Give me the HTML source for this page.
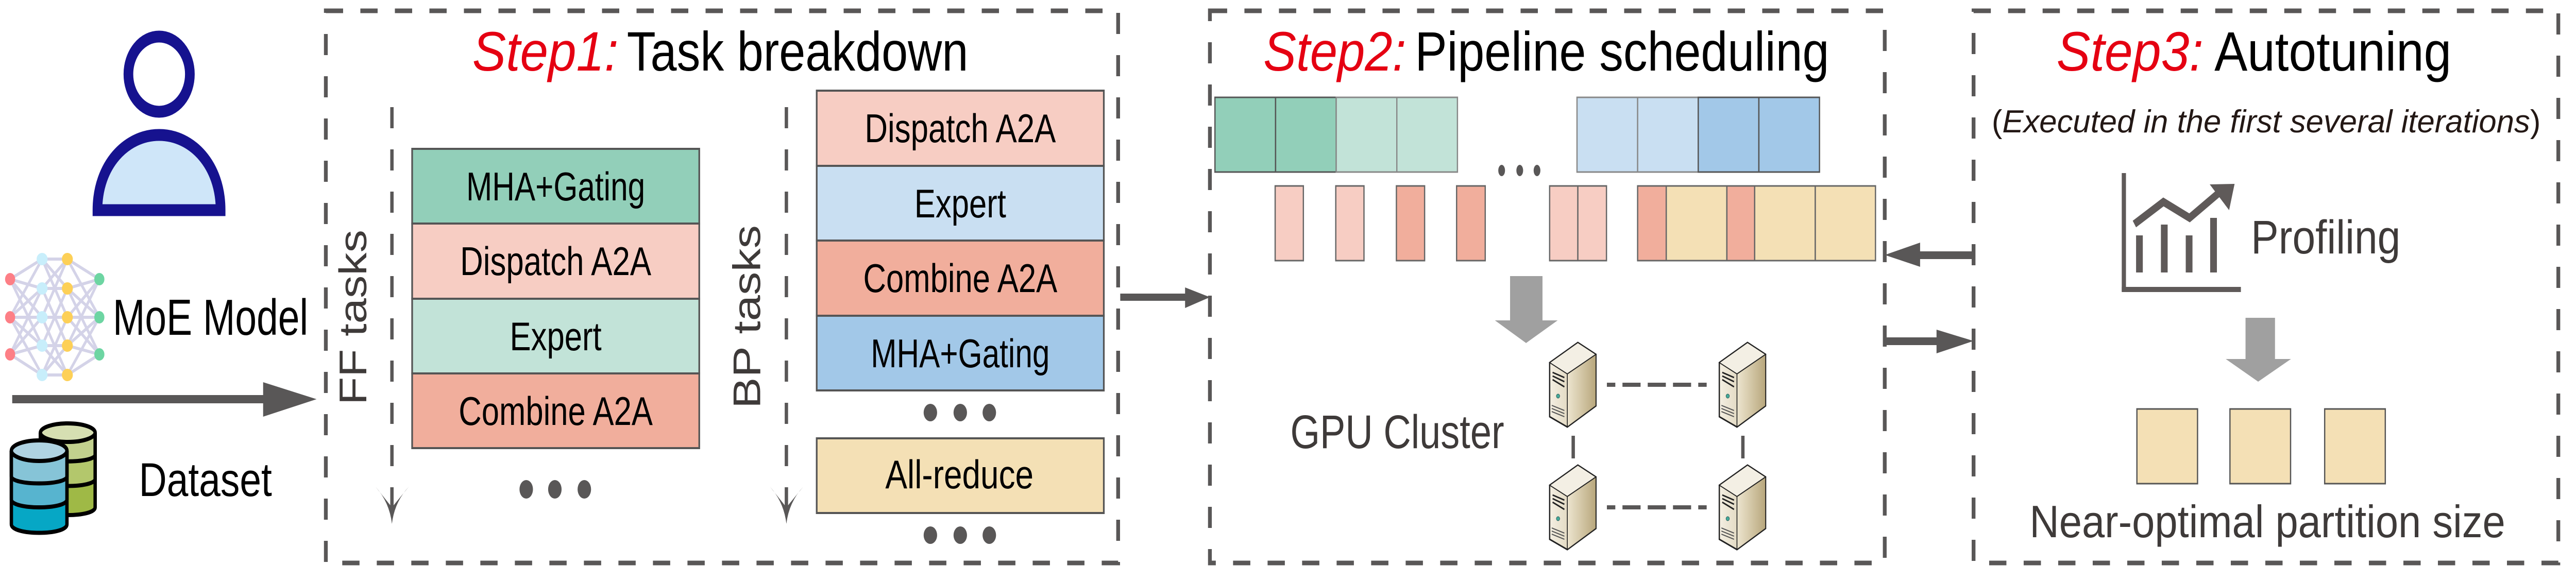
<!DOCTYPE html>
<html><head><meta charset="utf-8"><style>
html,body{margin:0;padding:0;background:#fff;overflow:hidden;}
svg{display:block;width:100vw;height:100vh;}
text{font-family:"Liberation Sans Narrow","Liberation Sans",sans-serif;}
</style></head><body>
<svg viewBox="0 0 6119 1128" preserveAspectRatio="none" xmlns="http://www.w3.org/2000/svg">
<defs>
<linearGradient id="sf" x1="0" x2="1" y1="0" y2="0"><stop offset="0" stop-color="#f4efe2"/><stop offset="1" stop-color="#c9bb96"/></linearGradient>
<linearGradient id="ss" x1="0" x2="1" y1="0" y2="0"><stop offset="0" stop-color="#ede5cf"/><stop offset="1" stop-color="#b8a77c"/></linearGradient>
<g id="srv">
<polygon points="0,39 67,0 110,23 110,123 42,164 0,144" fill="url(#sf)" stroke="#222" stroke-width="3"/>
<polygon points="0,39 67,0 110,23 42,61" fill="#f3efe4" stroke="#222" stroke-width="2"/>
<polygon points="42,61 110,23 110,123 42,164" fill="url(#ss)" stroke="#222" stroke-width="2"/>
<path d="M7,58 L35,68 M7,65 L35,76 M7,72 L35,86" stroke="#222" stroke-width="3" fill="none"/>
<circle cx="20" cy="104" r="4" fill="#4a9" stroke="#255" stroke-width="1"/>
<path d="M5,122 L35,132 M5,128 L35,138 M5,134 L35,144" stroke="#555" stroke-width="2" fill="none"/>
</g>
</defs>

<circle cx="378" cy="144" r="73" fill="#fff" stroke="#16128f" stroke-width="23"/>
<path d="M231.5,408 C231.5,320 300,262 378,262 C456,262 524,320 524,408 Z" fill="#cfe6f9" stroke="#16128f" stroke-width="23"/>

<g stroke="#d4d3e8" stroke-width="6">
<g id="e1">
<line x1="24" y1="542" x2="100" y2="503"/><line x1="24" y1="542" x2="100" y2="560"/><line x1="24" y1="542" x2="100" y2="616"/><line x1="24" y1="542" x2="100" y2="671"/>
<line x1="24" y1="616" x2="100" y2="503"/><line x1="24" y1="616" x2="100" y2="560"/><line x1="24" y1="616" x2="100" y2="616"/><line x1="24" y1="616" x2="100" y2="671"/><line x1="24" y1="616" x2="100" y2="728"/>
<line x1="24" y1="688" x2="100" y2="560"/><line x1="24" y1="688" x2="100" y2="616"/><line x1="24" y1="688" x2="100" y2="671"/><line x1="24" y1="688" x2="100" y2="728"/>
</g>
<line x1="100" y1="503" x2="160" y2="503"/><line x1="100" y1="503" x2="160" y2="560"/><line x1="100" y1="503" x2="160" y2="616"/>
<line x1="100" y1="560" x2="160" y2="503"/><line x1="100" y1="560" x2="160" y2="560"/><line x1="100" y1="560" x2="160" y2="671"/>
<line x1="100" y1="616" x2="160" y2="503"/><line x1="100" y1="616" x2="160" y2="616"/><line x1="100" y1="616" x2="160" y2="728"/>
<line x1="100" y1="671" x2="160" y2="560"/><line x1="100" y1="671" x2="160" y2="671"/><line x1="100" y1="671" x2="160" y2="728"/>
<line x1="100" y1="728" x2="160" y2="616"/><line x1="100" y1="728" x2="160" y2="671"/><line x1="100" y1="728" x2="160" y2="728"/>
<g transform="translate(260,0) scale(-1,1)"><use href="#e1"/></g>
</g>
<g fill="#fd7f86"><ellipse cx="24" cy="542" rx="12" ry="12"/><ellipse cx="24" cy="616" rx="12" ry="12"/><ellipse cx="24" cy="688" rx="12" ry="12"/></g>
<g fill="#c8eefb"><ellipse cx="100" cy="503" rx="13" ry="12"/><ellipse cx="100" cy="560" rx="13" ry="12"/><ellipse cx="100" cy="616" rx="13" ry="12"/><ellipse cx="100" cy="671" rx="13" ry="12"/><ellipse cx="100" cy="728" rx="13" ry="12"/></g>
<g fill="#fdd057"><ellipse cx="160" cy="503" rx="13" ry="12"/><ellipse cx="160" cy="560" rx="13" ry="12"/><ellipse cx="160" cy="616" rx="13" ry="12"/><ellipse cx="160" cy="671" rx="13" ry="12"/><ellipse cx="160" cy="728" rx="13" ry="12"/></g>
<g fill="#6dd5a2"><ellipse cx="236" cy="542" rx="12" ry="12"/><ellipse cx="236" cy="616" rx="12" ry="12"/><ellipse cx="236" cy="688" rx="12" ry="12"/></g>
<text x="268" y="650" font-size="98" fill="#000" textLength="464" lengthAdjust="spacingAndGlyphs">MoE Model</text>

<rect x="29" y="767" width="600" height="16" fill="#595757"/>
<polygon points="625,742 752,775 625,809" fill="#595757"/>

<g stroke="#000" stroke-width="8">
<path d="M96,840 L96,985 C96,1005 226,1005 226,985 L226,840" fill="#9fb946"/>
<path d="M96,840 L96,930 C96,948 226,948 226,930 L226,840" fill="#b3c76c"/>
<path d="M96,840 L96,883 C96,900 226,900 226,883 L226,840" fill="#c2d18e"/>
<ellipse cx="161" cy="840" rx="65" ry="18" fill="#d6dfb2"/>
<path d="M27,875 L27,1018 C27,1040 159,1040 159,1018 L159,875" fill="#06a7c5"/>
<path d="M27,875 L27,970 C27,990 159,990 159,970 L159,875" fill="#57b4cf"/>
<path d="M27,875 L27,925 C27,943 159,943 159,925 L159,875" fill="#86c4d7"/>
<ellipse cx="93" cy="875" rx="66" ry="20" fill="#afd3e2"/>
</g>
<text x="330" y="963" font-size="92" fill="#000" textLength="316" lengthAdjust="spacingAndGlyphs">Dataset</text>

<g fill="none" stroke="#595757" stroke-width="9" stroke-dasharray="41 41">
<rect x="774" y="21" width="1882" height="1072"/>
<rect x="2874" y="21" width="1603" height="1072"/>
<rect x="4688" y="21" width="1389" height="1072"/>
</g>

<text x="1122" y="137" font-size="108" fill="#e50012" font-family="Liberation Serif,serif" font-style="italic" textLength="347" lengthAdjust="spacingAndGlyphs">Step1:</text>
<text x="1489" y="137" font-size="108" fill="#000" textLength="811" lengthAdjust="spacingAndGlyphs">Task breakdown</text>
<text x="3001" y="137" font-size="108" fill="#e50012" font-family="Liberation Serif,serif" font-style="italic" textLength="339" lengthAdjust="spacingAndGlyphs">Step2:</text>
<text x="3361" y="137" font-size="108" fill="#000" textLength="984" lengthAdjust="spacingAndGlyphs">Pipeline scheduling</text>
<text x="4885" y="137" font-size="108" fill="#e50012" font-family="Liberation Serif,serif" font-style="italic" textLength="349" lengthAdjust="spacingAndGlyphs">Step3:</text>
<text x="5260" y="137" font-size="108" fill="#000" textLength="563" lengthAdjust="spacingAndGlyphs">Autotuning</text>
<text x="4731" y="257" font-size="62" fill="#231815" textLength="1304" lengthAdjust="spacingAndGlyphs">(<tspan font-style="italic">Executed in the first several iterations</tspan>)</text>

<g stroke="#595757" stroke-width="8" stroke-dasharray="41 41">
<line x1="931" y1="208" x2="931" y2="1000"/>
<line x1="1868" y1="208" x2="1868" y2="1000"/>
</g>
<path d="M892,945 Q925,975 931,1017 Q937,975 971,945 L931,985 Z" fill="#595757"/>
<path d="M1829,945 Q1862,975 1868,1017 Q1874,975 1908,945 L1868,985 Z" fill="#595757"/>
<text transform="translate(870,786) rotate(-90)" font-size="92" fill="#3e3a39" font-family="Liberation Sans,sans-serif" textLength="340" lengthAdjust="spacingAndGlyphs">FF tasks</text>
<text transform="translate(1806,793) rotate(-90)" font-size="92" fill="#3e3a39" font-family="Liberation Sans,sans-serif" textLength="356" lengthAdjust="spacingAndGlyphs">BP tasks</text>

<g stroke="#555" stroke-width="4">
<rect x="979" y="289" width="682" height="145" fill="#92cfb9"/>
<rect x="979" y="434" width="682" height="146" fill="#f7cdc3"/>
<rect x="979" y="580" width="682" height="145" fill="#c2e3d8"/>
<rect x="979" y="725" width="682" height="145" fill="#f1ae9c"/>
</g>
<g font-size="78" fill="#000" text-anchor="middle">
<text x="1320" y="389" textLength="425" lengthAdjust="spacingAndGlyphs">MHA+Gating</text>
<text x="1320" y="534" textLength="454" lengthAdjust="spacingAndGlyphs">Dispatch A2A</text>
<text x="1320" y="680" textLength="218" lengthAdjust="spacingAndGlyphs">Expert</text>
<text x="1320" y="825" textLength="461" lengthAdjust="spacingAndGlyphs">Combine A2A</text>
</g>
<g fill="#595757"><ellipse cx="1250" cy="950" rx="16" ry="18"/><ellipse cx="1318" cy="950" rx="16" ry="18"/><ellipse cx="1388" cy="950" rx="16" ry="18"/></g>

<g stroke="#555" stroke-width="4">
<rect x="1940" y="176" width="682" height="146" fill="#f7cdc3"/>
<rect x="1940" y="322" width="682" height="145" fill="#c9dff2"/>
<rect x="1940" y="467" width="682" height="146" fill="#f1ae9c"/>
<rect x="1940" y="613" width="682" height="145" fill="#a2c8e8"/>
<rect x="1940" y="851" width="682" height="145" fill="#f4e0b5"/>
</g>
<g font-size="78" fill="#000" text-anchor="middle">
<text x="2281" y="276" textLength="454" lengthAdjust="spacingAndGlyphs">Dispatch A2A</text>
<text x="2281" y="422" textLength="218" lengthAdjust="spacingAndGlyphs">Expert</text>
<text x="2281" y="567" textLength="461" lengthAdjust="spacingAndGlyphs">Combine A2A</text>
<text x="2281" y="713" textLength="425" lengthAdjust="spacingAndGlyphs">MHA+Gating</text>
<text x="2279" y="948" textLength="352" lengthAdjust="spacingAndGlyphs">All-reduce</text>
</g>
<g fill="#595757">
<ellipse cx="2210" cy="801" rx="16" ry="17"/><ellipse cx="2281" cy="801" rx="16" ry="17"/><ellipse cx="2350" cy="801" rx="16" ry="17"/>
<ellipse cx="2210" cy="1039" rx="16" ry="17"/><ellipse cx="2281" cy="1039" rx="16" ry="17"/><ellipse cx="2350" cy="1039" rx="16" ry="17"/>
</g>

<rect x="2661" y="570" width="160" height="14" fill="#595757"/>
<polygon points="2815,558 2874,577 2815,598" fill="#595757"/>

<g stroke="#555" stroke-width="3">
<rect x="2886" y="189" width="144" height="145" fill="#92cfb9"/>
<rect x="3030" y="189" width="144" height="145" fill="#92cfb9"/>
<rect x="3174" y="189" width="144" height="145" fill="#c2e3d8" stroke="#888"/>
<rect x="3318" y="189" width="144" height="145" fill="#c2e3d8" stroke="#888"/>
<rect x="3746" y="189" width="144" height="145" fill="#c9dff2" stroke="#888"/>
<rect x="3890" y="189" width="144" height="145" fill="#c9dff2" stroke="#888"/>
<rect x="4034" y="189" width="144" height="145" fill="#a2c8e8"/>
<rect x="4178" y="189" width="144" height="145" fill="#a2c8e8"/>
</g>
<g fill="#595757"><ellipse cx="3567" cy="331" rx="8" ry="11"/><ellipse cx="3610" cy="331" rx="8" ry="11"/><ellipse cx="3651" cy="331" rx="8" ry="11"/></g>
<g stroke="#666" stroke-width="3">
<rect x="3029" y="361" width="67" height="145" fill="#f7cdc3"/>
<rect x="3173" y="361" width="67" height="145" fill="#f7cdc3"/>
<rect x="3317" y="361" width="67" height="145" fill="#f1ae9c"/>
<rect x="3460" y="361" width="68" height="145" fill="#f1ae9c"/>
<rect x="3681" y="361" width="67" height="145" fill="#f7cdc3"/>
<rect x="3748" y="361" width="68" height="145" fill="#f7cdc3"/>
<rect x="3890" y="361" width="68" height="145" fill="#f1ae9c"/>
<rect x="3958" y="361" width="144" height="145" fill="#f4e0b5"/>
<rect x="4102" y="361" width="66" height="145" fill="#f1ae9c"/>
<rect x="4168" y="361" width="144" height="145" fill="#f4e0b5"/>
<rect x="4312" y="361" width="143" height="145" fill="#f4e0b5"/>
</g>
<rect x="3587" y="536" width="77" height="88" fill="#a0a0a0"/>
<polygon points="3551,622 3700,622 3625,666" fill="#a0a0a0"/>
<text x="3065" y="870" font-size="92" fill="#3e3a39" textLength="508" lengthAdjust="spacingAndGlyphs">GPU Cluster</text>
<use href="#srv" x="3681" y="665"/>
<use href="#srv" x="4084" y="665"/>
<use href="#srv" x="3681" y="903"/>
<use href="#srv" x="4084" y="903"/>
<g stroke="#595757" stroke-width="8">
<line x1="3817" y1="747" x2="4056" y2="747" stroke-dasharray="20 17 43 17 43 17 43 17 20"/>
<line x1="3817" y1="985" x2="4056" y2="985" stroke-dasharray="20 17 43 17 43 17 43 17 20"/>
<line x1="3737" y1="846" x2="3737" y2="890"/>
<line x1="4140" y1="846" x2="4140" y2="890"/>
</g>

<rect x="4555" y="488" width="133" height="15" fill="#595757"/>
<polygon points="4561,471 4477,495 4561,518" fill="#595757"/>
<rect x="4477" y="655" width="130" height="15" fill="#595757"/>
<polygon points="4600,640 4688,662 4600,686" fill="#595757"/>

<g fill="#5f5a59">
<rect x="5040" y="336" width="10" height="230"/>
<rect x="5040" y="557" width="283" height="10"/>
<rect x="5074" y="457" width="16" height="72"/>
<rect x="5133" y="436" width="16" height="93"/>
<rect x="5192" y="457" width="16" height="72"/>
<rect x="5250" y="423" width="16" height="106"/>
<polygon points="5249,358 5308,357 5295,408"/>
</g>
<polyline points="5070,435 5139,392 5201,423 5270,375" fill="none" stroke="#5f5a59" stroke-width="15"/>
<text x="5347" y="492" font-size="92" fill="#3e3a39" textLength="355" lengthAdjust="spacingAndGlyphs">Profiling</text>
<rect x="5334" y="617" width="70" height="82" fill="#a0a0a0"/>
<polygon points="5287,697 5442,697 5364,741" fill="#a0a0a0"/>
<g stroke="#555" stroke-width="3" fill="#f4e0b5">
<rect x="5076" y="794" width="144" height="145"/>
<rect x="5297" y="794" width="144" height="145"/>
<rect x="5522" y="794" width="144" height="145"/>
</g>
<text x="4821" y="1043" font-size="88" fill="#3e3a39" textLength="1130" lengthAdjust="spacingAndGlyphs">Near-optimal partition size</text>
</svg>
</body></html>
